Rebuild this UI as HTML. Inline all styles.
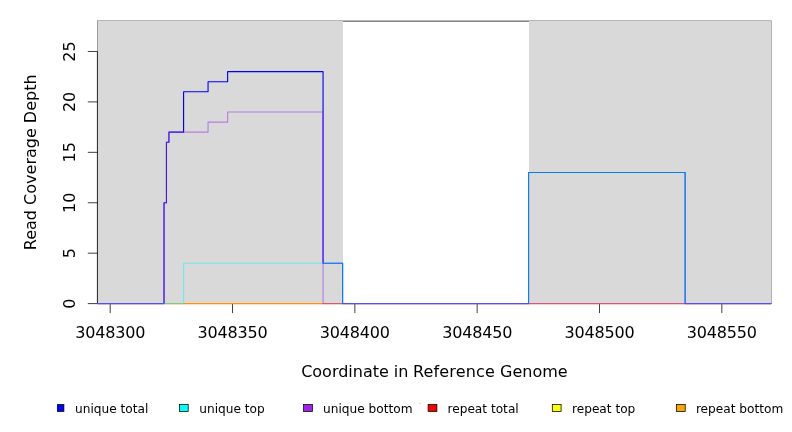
<!DOCTYPE html>
<html><head><meta charset="utf-8"><title>Read Coverage Depth</title>
<style>html,body{margin:0;padding:0;background:#fff;overflow:hidden}svg{display:block}text{font-family:"DejaVu Sans","Liberation Sans",sans-serif;fill:#000}</style></head><body>
<svg width="792" height="432" viewBox="0 0 792 432">
<rect width="792" height="432" fill="#fff"/>
<defs><clipPath id="c"><rect x="97.4" y="21.1" width="674" height="282.4"/></clipPath><clipPath id="c3"><rect x="97.4" y="21.1" width="675" height="282.4"/></clipPath><clipPath id="c2"><rect x="97.4" y="21.1" width="675" height="283.4"/></clipPath><clipPath id="lc"><rect x="57" y="395" width="735" height="37"/></clipPath></defs>
<rect x="97.4" y="21.1" width="674" height="282.4" fill="none" stroke="#000" stroke-width="0.75"/>
<g clip-path="url(#c3)">
<rect x="92.4" y="0" width="250.55" height="432" fill="#D9D9D9"/>
<rect x="529" y="0" width="242.75" height="432" fill="#D9D9D9"/>
</g>
<g stroke="#000" stroke-width="0.75" fill="none">
<path d="M110.2,303.5 H721.83"/>
<path d="M110.2,303.5 v9.6"/>
<path d="M232.52,303.5 v9.6"/>
<path d="M354.85,303.5 v9.6"/>
<path d="M477.17,303.5 v9.6"/>
<path d="M599.5,303.5 v9.6"/>
<path d="M721.83,303.5 v9.6"/>
<path d="M97.4,303.6 V51.47"/>
<path d="M97.4,303.6 h-9.6"/>
<path d="M97.4,253.18 h-9.6"/>
<path d="M97.4,202.75 h-9.6"/>
<path d="M97.4,152.33 h-9.6"/>
<path d="M97.4,101.9 h-9.6"/>
<path d="M97.4,51.47 h-9.6"/>
</g>
<g font-size="16px" text-anchor="middle">
<text x="110.2" y="338.06" letter-spacing="-0.18">3048300</text>
<text x="232.52" y="338.06" letter-spacing="-0.18">3048350</text>
<text x="354.85" y="338.06" letter-spacing="-0.18">3048400</text>
<text x="477.17" y="338.06" letter-spacing="-0.18">3048450</text>
<text x="599.5" y="338.06" letter-spacing="-0.18">3048500</text>
<text x="721.83" y="338.06" letter-spacing="-0.18">3048550</text>
<text transform="translate(74.9,303.6) rotate(-90)">0</text>
<text transform="translate(74.9,253.18) rotate(-90)">5</text>
<text transform="translate(74.9,202.75) rotate(-90)">10</text>
<text transform="translate(74.9,152.33) rotate(-90)">15</text>
<text transform="translate(74.9,101.9) rotate(-90)">20</text>
<text transform="translate(74.9,51.47) rotate(-90)">25</text>
<text y="376.9" text-anchor="start"><tspan x="301.15">Coordinate </tspan><tspan x="393.85">in </tspan><tspan x="412.95" letter-spacing="0.16">Reference </tspan><tspan x="500">Genome</tspan></text>
<text transform="translate(36.06,162.3) rotate(-90)">Read Coverage Depth</text>
</g>
<g clip-path="url(#c2)" fill="none" stroke-width="1.125" stroke-linejoin="round">
<polyline points="61.27,303.6 771.2,303.6" stroke="#FF0000"/>
<polyline points="61.27,303.6 771.2,303.6" stroke="#FFFF00" stroke-opacity="0.5"/>
<polyline points="61.27,303.6 771.2,303.6" stroke="#FFA500" stroke-opacity="0.5"/>
<polyline points="61.27,303.6 164.02,303.6 164.02,202.75 166.47,202.75 166.47,142.24 168.92,142.24 168.92,132.16 183.59,132.16 183.59,91.81 208.06,91.81 208.06,81.73 227.63,81.73 227.63,71.65 323.05,71.65 323.05,263.26 342.62,263.26 342.62,303.6 528.55,303.6 528.55,172.5 685.13,172.5 685.13,303.6 771.2,303.6" stroke="#0000FF"/>
<polyline points="61.27,303.6 183.59,303.6 183.59,263.26 342.62,263.26 342.62,303.6 528.55,303.6 528.55,172.5 685.13,172.5 685.13,303.6 771.2,303.6" stroke="#00FFFF" stroke-opacity="0.5"/>
<polyline points="61.27,303.6 164.02,303.6 164.02,202.75 166.47,202.75 166.47,142.24 168.92,142.24 168.92,132.16 208.06,132.16 208.06,122.07 227.63,122.07 227.63,111.99 323.05,111.99 323.05,303.6 771.2,303.6" stroke="#A020F0" stroke-opacity="0.5"/>
</g>
<g clip-path="url(#lc)" font-size="12.15px">
<rect x="55.1" y="404.5" width="8.8" height="6.9" fill="#0000FF" stroke="#000" stroke-width="0.75"/>
<text x="75" y="412.5">unique total</text>
<rect x="179.4" y="404.5" width="8.8" height="6.9" fill="#00FFFF" stroke="#000" stroke-width="0.75"/>
<text x="199.3" y="412.5">unique top</text>
<rect x="303.6" y="404.5" width="8.8" height="6.9" fill="#A020F0" stroke="#000" stroke-width="0.75"/>
<text x="323.1" y="412.5">unique bottom</text>
<rect x="428.1" y="404.5" width="8.8" height="6.9" fill="#FF0000" stroke="#000" stroke-width="0.75"/>
<text x="447.5" y="412.5">repeat total</text>
<rect x="552.3" y="404.5" width="8.8" height="6.9" fill="#FFFF00" stroke="#000" stroke-width="0.75"/>
<text x="572" y="412.5">repeat top</text>
<rect x="676.4" y="404.5" width="8.8" height="6.9" fill="#FFA500" stroke="#000" stroke-width="0.75"/>
<text x="695.9" y="412.5">repeat bottom</text>
</g>
<rect x="419.2" y="403" width="1.6" height="0.8" fill="#c4c4c4"/>
</svg></body></html>
